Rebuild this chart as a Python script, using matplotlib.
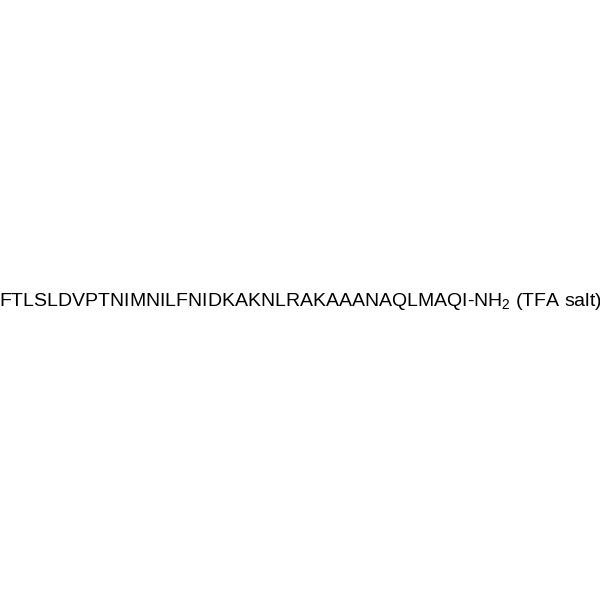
import matplotlib
matplotlib.use("Agg")
import matplotlib.pyplot as plt

plt.rcParams['font.family'] = ['Liberation Sans', 'DejaVu Sans']
plt.rcParams['mathtext.fontset'] = 'custom'
plt.rcParams['mathtext.rm'] = 'Liberation Sans'
plt.rcParams['mathtext.it'] = 'Liberation Sans'
plt.rcParams['mathtext.bf'] = 'Liberation Sans'

sequence = "FTLSLDVPTNIMNILFNIDKAKNLRAKAAANAQLMAQI"
suffix = r"-NH$_2$ (TFA salt)"

fig = plt.figure(figsize=(6, 6), dpi=100)
fig.text(0.5, 0.498, sequence + suffix, ha='center', va='center',
         fontsize=14.0, color='black')
fig.savefig("out.png", dpi=100, facecolor='white')
